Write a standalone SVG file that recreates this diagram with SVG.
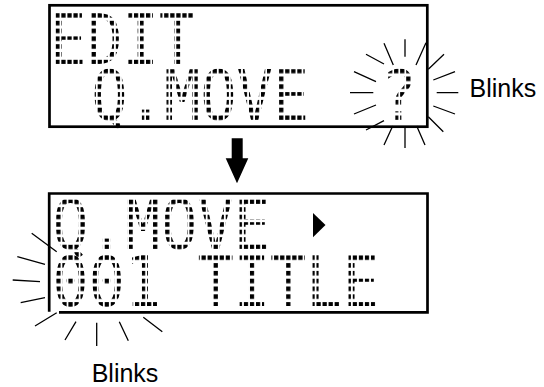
<svg xmlns="http://www.w3.org/2000/svg" width="544" height="387" viewBox="0 0 544 387">
<style>
.box{fill:none;stroke:#000;stroke-width:2.7}
.lcd{font-family:"DejaVu Sans Mono",monospace;font-weight:normal;font-size:70px}
.ray{stroke:#000;stroke-width:1.3;fill:none}
.lbl{font-family:"Liberation Sans",Arial,sans-serif;font-size:25px;fill:#000}
</style>
<defs>
<pattern id="d1" patternUnits="userSpaceOnUse" x="64.15" y="13" width="7.019" height="7.8"><rect width="4.9" height="4.6" fill="#000"/></pattern>
<pattern id="d2" patternUnits="userSpaceOnUse" x="64.15" y="68.7" width="7.019" height="7.8"><rect width="4.9" height="4.6" fill="#000"/></pattern>
<pattern id="d3" patternUnits="userSpaceOnUse" x="65.31" y="199.7" width="7.019" height="7.5"><rect width="4.9" height="4.5" fill="#000"/></pattern>
<pattern id="d4" patternUnits="userSpaceOnUse" x="65.31" y="255.3" width="7.019" height="7.8"><rect width="4.9" height="4.6" fill="#000"/></pattern>
</defs>
<g id="display-top">
<rect class="box" x="49.5" y="5.3" width="377.8" height="121.4"/>
<g transform="scale(0.862,1)">
<text class="lcd"><tspan x="58" y="64" fill="url(#d1)">EDIT</tspan><tspan x="105.9" y="119.6" fill="url(#d2)">Q.MOVE</tspan><tspan x="442" y="119.6" fill="url(#d2)">?</tspan></text>
</g>
</g>
<g id="display-bottom">
<path class="box" d="M59,312.3 H427.5 V193.5 H49.2 V311.7"/>
<g transform="scale(0.862,1)">
<text class="lcd"><tspan x="60.5" y="249" fill="url(#d3)">Q.MOVE</tspan><tspan x="60.5" y="306.3" fill="url(#d4)">001 TITLE</tspan></text>
</g>
<polygon points="313,213 325.5,225 313,237.3" fill="#000"/>
</g>
<g id="connectors">
<polygon points="231.7,138.3 242.7,138.3 242.7,158.3 248.3,158.3 237,183.3 225.7,158.3 231.7,158.3" fill="#000"/>
</g>
<g id="blink-top">
<path class="ray" d="M405,39.3V56.7 M384,43.3L393.3,65 M426,42.7L416,65 M366,54.3L384,64 M444,54.3L428.3,69.3 M354,71.7L376,81.7 M433.3,80L455,71.7 M350,92.7H373.3 M436.7,92.7H458.3 M354,114L376,105 M433.3,106L455,114 M366,130L384,120.7 M428.3,116.7L443.3,131.7 M384,145L392.7,126 M405,126V148 M425,145L416.7,126"/>
<text class="lbl" x="469.5" y="97">Blinks</text>
</g>
<g id="blink-bottom">
<path class="ray" d="M31.7,233.3L56.7,251.7 M17.3,256.7L45,264.3 M12.7,280L40,281.7 M20.7,302.7L45,297.7 M35,326L56.7,312.7 M65,340L76,321.7 M96.7,322.7V346 M119.3,321.7L128.3,340.7 M143.3,317.3L162.3,331.7"/>
<text class="lbl" x="91.7" y="381.7">Blinks</text>
</g>
</svg>
